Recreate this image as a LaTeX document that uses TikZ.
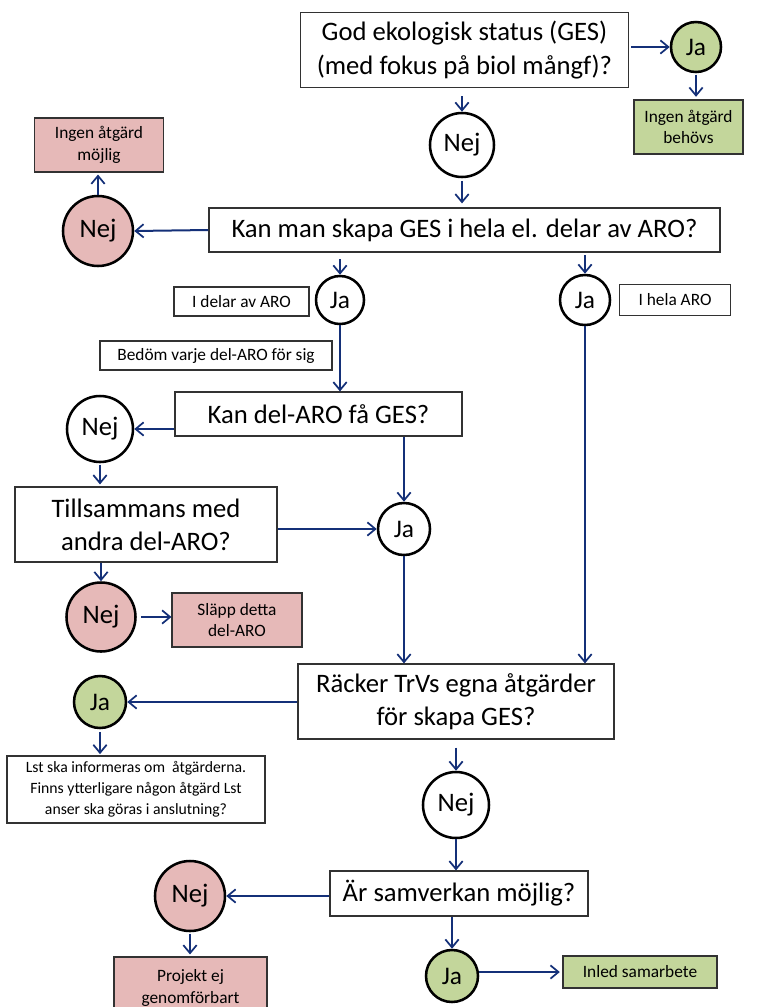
\documentclass[tikz,border=0pt]{standalone}
\usepackage{fontspec}
\setmainfont{Carlito}
\usetikzlibrary{arrows.meta}
\definecolor{arrblue}{RGB}{20,48,120}
\definecolor{okgreen}{RGB}{195,214,155}
\definecolor{nopink}{RGB}{230,185,184}
\definecolor{boxline}{RGB}{50,50,50}
\tikzset{
  qbox/.style={draw=boxline, line width=0.9pt, fill=white, inner sep=0pt, align=center,
    font=\fontsize{20}{25}\selectfont},
  sbox/.style={draw=boxline, line width=0.8pt, inner sep=0pt, align=center,
    font=\fontsize{13}{16}\selectfont},
  lbox/.style={draw=boxline, line width=0.8pt, fill=white, inner sep=0pt, align=center,
    font=\fontsize{13}{15}\selectfont},
  ans/.style={circle, draw=black, line width=1.9pt, inner sep=0pt, fill=white},
  nejc/.style={ans, font=\fontsize{20}{24}\selectfont},
  jac/.style={ans, font=\fontsize{19}{23}\selectfont},
  arr/.style={draw=arrblue, line width=1.5pt, -{Straight Barb[length=6pt,width=10pt,line width=1.3pt]}},
}
\begin{document}
\begin{tikzpicture}[x=0.75pt,y=-0.75pt]
\useasboundingbox (0,0) rectangle (759,1007);
% row 1
\node[qbox, minimum width=328*0.75pt, minimum height=75*0.75pt] (b1) at (464.5,50) {God ekologisk status (GES)\\(med fokus på biol mångf)?};
\node[jac, fill=okgreen, minimum size=50*0.75pt] (ja1) at (696,47) {Ja};
\node[sbox, fill=okgreen, minimum width=109*0.75pt, minimum height=54*0.75pt] (ok1) at (688.5,127) {Ingen åtgärd\\behövs};
\node[nejc, minimum size=64*0.75pt] (nej1) at (462,145) {Nej};
% row 2
\node[qbox, minimum width=511*0.75pt, minimum height=44*0.75pt] (b2) at (464.5,230) {Kan man skapa GES i hela el. delar av ARO?};
\node[nejc, fill=nopink, minimum size=70*0.75pt] (nej2) at (98,231) {Nej};
\node[sbox, fill=nopink, minimum width=129*0.75pt, minimum height=54*0.75pt] (no1) at (99,145) {Ingen åtgärd\\möjlig};
% row 3
\node[jac, minimum size=48*0.75pt] (ja2) at (340,300) {Ja};
\node[lbox, minimum width=135*0.75pt, minimum height=29*0.75pt] (lab1) at (241.5,301.5) {I delar av ARO};
\node[jac, minimum size=50*0.75pt] (ja2r) at (585,300) {Ja};
\node[lbox, minimum width=111*0.75pt, minimum height=31*0.75pt] (lab2) at (675,300) {I hela ARO};
\node[lbox, minimum width=232*0.75pt, minimum height=29*0.75pt] (lab3) at (216,355.5) {Bedöm varje del-ARO för sig};
% row 4
\node[qbox, minimum width=287*0.75pt, minimum height=44*0.75pt] (b3) at (318.5,414) {Kan del-ARO få GES?};
\node[nejc, minimum size=66*0.75pt] (nej3) at (100,429) {Nej};
\node[qbox, minimum width=262*0.75pt, minimum height=75*0.75pt] (b4) at (146,524.5) {Tillsammans med\\andra del-ARO?};
\node[jac, minimum size=52*0.75pt] (ja3) at (404,529) {Ja};
\node[nejc, fill=nopink, minimum size=69*0.75pt] (nej4) at (101,617) {Nej};
\node[sbox, fill=nopink, minimum width=130*0.75pt, minimum height=54*0.75pt] (no2) at (237,620) {Släpp detta\\del-ARO};
% row 5
\node[qbox, minimum width=316*0.75pt, minimum height=75*0.75pt] (b5) at (456,701.5) {Räcker TrVs egna åtgärder\\för skapa GES?};
\node[jac, fill=okgreen, minimum size=52*0.75pt] (ja4) at (100,702) {Ja};
\node[lbox, font=\fontsize{11.8}{15.75}\selectfont, minimum width=258*0.75pt, minimum height=67*0.75pt] (lst) at (136,789.5) {Lst ska informeras om \ åtgärderna.\\Finns ytterligare någon åtgärd Lst\\anser ska göras i anslutning?};
\node[nejc, minimum size=66*0.75pt] (nej5) at (456,805) {Nej};
% row 6
\node[qbox, minimum width=258*0.75pt, minimum height=45*0.75pt] (b6) at (459,893.5) {Är samverkan möjlig?};
\node[nejc, fill=nopink, minimum size=70*0.75pt] (nej6) at (190,896) {Nej};
\node[sbox, fill=nopink, minimum width=153*0.75pt, minimum height=62*0.75pt] (no3) at (190.5,988) {Projekt ej\\genomförbart};
\node[jac, fill=okgreen, minimum size=52*0.75pt] (ja5) at (452,976) {Ja};
\node[sbox, fill=okgreen, minimum width=154*0.75pt, minimum height=32*0.75pt] (ok2) at (640,972) {Inled samarbete};
% connectors
\draw[arr, shorten <=1.5pt] (b1.east |- ja1.west) -- (ja1.west);
\draw[arr, shorten <=1pt, shorten >=2pt] (ja1.south) -- (ja1.south |- ok1.north);
\draw[arr, shorten <=6pt] (b1.south -| nej1) -- (nej1.north);
\draw[arr, shorten <=2pt, shorten >=3pt] (nej1.south) -- (nej1 |- b2.north);
\draw[arr] (b2.west) -- (nej2.east);
\draw[arr, shorten >=1.5pt] (nej2.north) -- (nej2 |- no1.south);
\draw[arr, shorten <=5pt] (b2.south -| ja2) -- (ja2.north);
\draw[arr, shorten <=2pt] (b2.south -| ja2r) -- (ja2r.north);
\draw[arr] (ja2.south) -- (ja2 |- b3.north);
\draw[arr] (b3.west |- nej3.east) -- (nej3.east);
\draw[arr, shorten <=1pt, shorten >=1.5pt] (nej3.south) -- (nej3 |- b4.north);
\draw[arr] (b4.east |- ja3.west) -- (ja3.west);
\draw[arr] (b3.south -| ja3) -- (ja3.north);
\draw[arr] (b4.south -| nej4) -- (nej4.north);
\draw[arr, shorten <=3pt] (nej4.east) -- (nej4.east -| no2.west);
\draw[arr] (ja3.south) -- (ja3 |- b5.north);
\draw[arr] (ja2r.south) -- (ja2r |- b5.north);
\draw[arr] (b5.west |- ja4.east) -- (ja4.east);
\draw[arr, shorten <=2pt, shorten >=1pt] (ja4.south) -- (ja4 |- lst.north);
\draw[arr, shorten <=6pt] (b5.south -| nej5) -- (nej5.north);
\draw[arr] (nej5.south) -- (nej5 |- b6.north);
\draw[arr] (b6.west |- nej6.east) -- (nej6.east);
\draw[arr, shorten <=1pt, shorten >=1.5pt] (nej6.south) -- (nej6 |- no3.north);
\draw[arr] (b6.south -| ja5) -- (ja5.north);
\draw[arr, shorten >=2pt] (ja5.east |- ok2.west) -- (ok2.west);
\end{tikzpicture}
\end{document}
